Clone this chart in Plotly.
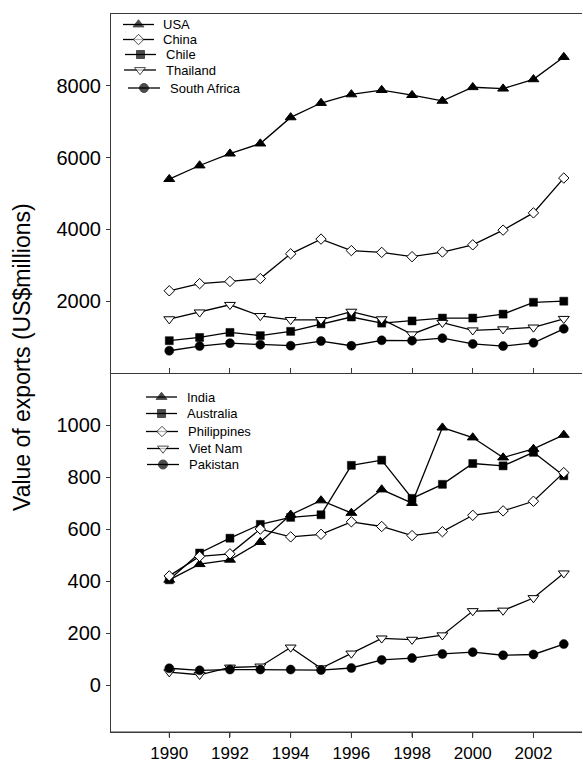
import plotly.graph_objects as go

# ---- data: export values (US$ millions) ----
years = list(range(1990, 2004))

top_names = ["USA", "China", "Chile", "Thailand", "South Africa"]
usa = [5400, 5780, 6110, 6390, 7120, 7520, 7760, 7880, 7740, 7580, 7960, 7920, 8180, 8800]
china = [2290, 2490, 2550, 2630, 3320, 3730, 3410, 3360, 3240, 3370, 3570, 3980, 4460, 5430]
chile = [900, 990, 1130, 1040, 1160, 1370, 1560, 1390, 1450, 1530, 1530, 1640, 1970, 2000]
thailand = [1500, 1690, 1900, 1590, 1480, 1480, 1710, 1500, 1080, 1400, 1190, 1220, 1270, 1510]
south_africa = [620, 750, 830, 790, 760, 890, 760, 910, 900, 970, 810, 750, 840, 1230]

bottom_names = ["India", "Australia", "Philippines", "Viet Nam", "Pakistan"]
india = [405, 465, 482, 550, 655, 710, 662, 752, 700, 990, 952, 875, 908, 962]
australia = [405, 508, 565, 618, 645, 655, 845, 865, 718, 772, 852, 843, 895, 805]
philippines = [420, 495, 505, 600, 570, 580, 628, 610, 575, 590, 653, 670, 707, 817]
viet_nam = [50, 40, 68, 72, 145, 65, 122, 180, 175, 192, 285, 287, 335, 430]
pakistan = [65, 57, 60, 60, 60, 58, 66, 97, 104, 120, 127, 115, 118, 158]

top_ticks = [2000, 4000, 6000, 8000]
bottom_ticks = [0, 200, 400, 600, 800, 1000]
year_ticks = [1990, 1992, 1994, 1996, 1998, 2000, 2002]
y_title = "Value of exports (US$millions)"

# ---- styles ----
FONT = "Liberation Sans, Arial, sans-serif"
AXIS = "#3a3a3a"
styles = {
    "tri": dict(symbol="triangle-up", size=9.5, color="black", line=dict(color="black", width=1)),
    "dia": dict(symbol="diamond", size=8, color="white", line=dict(color="black", width=1)),
    "sq": dict(symbol="square", size=8, color="black", line=dict(color="black", width=0.5)),
    "tdn": dict(symbol="triangle-down", size=9.5, color="white", line=dict(color="black", width=1)),
    "cir": dict(symbol="circle", size=9, color="black", line=dict(color="black", width=0.5)),
}
top_kinds = ["tri", "dia", "sq", "tdn", "cir"]
bottom_kinds = ["tri", "sq", "dia", "tdn", "cir"]

# ---- page geometry (pixels) ----
W, H = 583, 761
PLOT_L, PLOT_R, PLOT_T = 111, 582, 14
MID, PLOT_B = 373, 732          # panel divider and bottom axis
TICK = 5


def frac(y):
    """figure pixel row -> paper fraction (paper spans PLOT_T .. H)"""
    return (H - y) / (H - PLOT_T)


fig = go.Figure()

top_series = [usa, china, chile, thailand, south_africa]
bottom_series = [india, australia, philippines, viet_nam, pakistan]

for name, vals, k in zip(top_names, top_series, top_kinds):
    fig.add_trace(go.Scatter(x=years, y=vals, name=name, mode="lines+markers",
                             line=dict(color="black", width=1.3), marker=styles[k],
                             xaxis="x", yaxis="y", showlegend=False, cliponaxis=False))
for name, vals, k in zip(bottom_names, bottom_series, bottom_kinds):
    fig.add_trace(go.Scatter(x=years, y=vals, name=name, mode="lines+markers",
                             line=dict(color="black", width=1.3), marker=styles[k],
                             xaxis="x2", yaxis="y2", showlegend=False, cliponaxis=False))

# ---- hand-built legends on a pixel-coordinate overlay ----
# (x0, x1, y, text_x) in figure pixels
top_keys = [(123, 154, 24.5, 161), (123, 154, 39.5, 161), (125, 156, 54.5, 164),
            (124, 156, 70, 163.5), (128, 160, 88, 168)]
bottom_keys = [(146, 177, 397, 185), (146, 177, 413.5, 185), (146, 178, 431.5, 186),
               (147, 179, 448.5, 187), (147, 179, 464.5, 187)]

lx, ly, mx, my, msym, mcol, msize = [], [], [], [], [], [], []
for keys, names, kinds in ((top_keys, top_names, top_kinds),
                           (bottom_keys, bottom_names, bottom_kinds)):
    for (x0, x1, y, tx), name, k in zip(keys, names, kinds):
        lx += [x0, x1, None]
        ly += [y, y, None]
        mx.append((x0 + x1) / 2)
        my.append(y)
        msym.append(styles[k]["symbol"])
        mcol.append(styles[k]["color"])
        msize.append(styles[k]["size"])
        fig.add_annotation(x=tx, y=y, xref="x3", yref="y3", text=name, showarrow=False,
                           xanchor="left", yanchor="middle",
                           font=dict(family=FONT, size=13, color="black"))

fig.add_trace(go.Scatter(x=lx, y=ly, mode="lines", line=dict(color="black", width=1.3),
                         xaxis="x3", yaxis="y3", showlegend=False, hoverinfo="skip"))
fig.add_trace(go.Scatter(x=mx, y=my, mode="markers",
                         marker=dict(symbol=msym, color=mcol, size=msize,
                                     line=dict(color="black", width=1)),
                         xaxis="x3", yaxis="y3", showlegend=False, hoverinfo="skip"))

# shared y-axis title, placed in the left margin
fig.add_annotation(x=(22 - PLOT_L) / (PLOT_R - PLOT_L), y=frac(357),
                   xref="paper", yref="paper", text=y_title, showarrow=False,
                   textangle=-90, xanchor="center", yanchor="middle",
                   font=dict(family=FONT, size=23, color="black"))

# bottom frame line and its outward ticks, drawn on top of everything
tick_frac = TICK / (PLOT_B - MID)
fig.add_shape(type="line", xref="x2 domain", yref="y2 domain", x0=0, x1=1, y0=0, y1=0,
              line=dict(color=AXIS, width=1.2), layer="above")
for yr in year_ticks:
    fig.add_shape(type="line", xref="x2", yref="y2 domain", x0=yr, x1=yr,
                  y0=0, y1=-tick_frac, line=dict(color=AXIS, width=1), layer="above")

xr = [1988.08, 2003.6]
common_x = dict(range=xr, tickvals=year_ticks, showgrid=False, zeroline=False,
                showline=True, linecolor=AXIS, linewidth=1.2, tickcolor=AXIS,
                ticklen=TICK, tickwidth=1, automargin=False)
common_y = dict(showgrid=False, zeroline=False, showline=True, linecolor=AXIS,
                linewidth=1.2, ticks="outside", ticklen=4, tickwidth=1, tickcolor=AXIS,
                tickfont=dict(family=FONT, size=20, color="black"), ticklabelstandoff=1,
                automargin=False)

fig.update_layout(
    width=W, height=H,
    margin=dict(l=PLOT_L, r=W - PLOT_R, t=PLOT_T, b=0),
    paper_bgcolor="white", plot_bgcolor="rgba(0,0,0,0)",
    font=dict(family=FONT, color="black"),
    showlegend=False,
    xaxis=dict(domain=[0, 1], anchor="y", ticks="inside", showticklabels=False,
               mirror=True, **common_x),
    yaxis=dict(domain=[frac(MID), 1], anchor="x", range=[0, 10000], tickvals=top_ticks,
               **common_y),
    xaxis2=dict(domain=[0, 1], anchor="y2", ticks="outside", ticklabelstandoff=0,
                tickfont=dict(family=FONT, size=17, color="black"), **common_x),
    yaxis2=dict(domain=[frac(PLOT_B), frac(MID)], anchor="x2", range=[-180, 1200],
                tickvals=bottom_ticks, **common_y),
    xaxis3=dict(domain=[0, 1], anchor="y3", range=[PLOT_L, PLOT_R], visible=False,
                fixedrange=True, automargin=False),
    yaxis3=dict(domain=[0, 1], anchor="x3", range=[H, PLOT_T], visible=False,
                fixedrange=True, automargin=False),
)

fig.write_html("out.html")
